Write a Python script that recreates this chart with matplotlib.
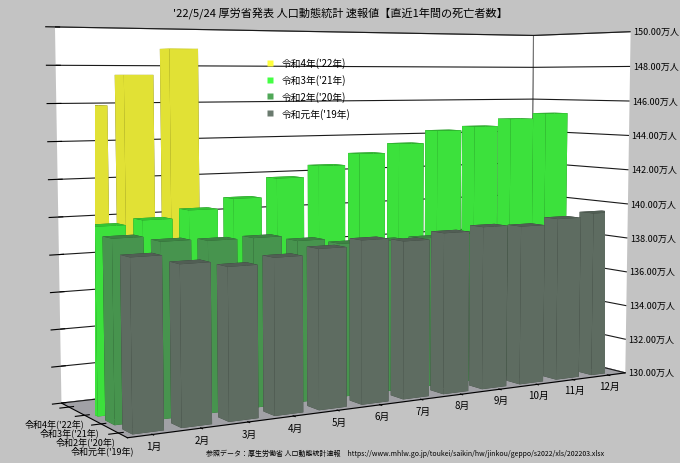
import numpy as np
import matplotlib.pyplot as plt
from matplotlib.lines import Line2D
from mpl_toolkits.mplot3d import proj3d

plt.rcParams['font.family'] = ['Noto Sans CJK JP', 'DejaVu Sans']

months = ['1月', '2月', '3月', '4月', '5月', '6月', '7月', '8月', '9月', '10月', '11月', '12月']
series_names = ["令和元年('19年)", "令和2年('20年)", "令和3年('21年)", "令和4年('22年)"]

# 直近1年間の死亡者数 (万人), rolling 12 months
deaths_r1 = [138.7, 138.2, 137.9, 138.2, 138.5, 138.8, 138.6, 138.9, 139.1, 139.0, 139.3, 139.5]
deaths_r2 = [139.4, 139.1, 139.0, 139.0, 138.7, 138.4, 138.4, 138.4, 138.5, 138.5, 138.5, 138.5]
deaths_r3 = [139.8, 140.0, 140.4, 140.9, 141.9, 142.5, 143.1, 143.6, 144.3, 144.5, 144.9, 145.2]
deaths_r4 = [145.9, 147.5, 148.9]

z_ticks = [130, 132, 134, 136, 138, 140, 142, 144, 146, 148, 150]

colors = ['#6a7a6e', '#50a858', '#44ff44', '#ffff3c']
all_series = [deaths_r1, deaths_r2, deaths_r3, deaths_r4]

fig = plt.figure(figsize=(6.8, 4.64), dpi=100, facecolor='#c3c3c3')
ax = fig.add_axes([-0.115, -0.02, 1.26, 1.1], projection='3d')
ax.set_facecolor('#c3c3c3')

dx, dy = 0.64, 0.55
xs, ys, hs, cs = [], [], [], []
for row, vals in enumerate(all_series):
    for m, v in enumerate(vals):
        xs.append(m - dx / 2)
        ys.append(row - dy / 2)
        hs.append(v - 130)
        cs.append(colors[row])
ax.bar3d(xs, ys, np.full(len(xs), 130.0), dx, dy, hs, color=cs, shade=True,
         edgecolor='none')

ax.set_xlim(-0.5, 11.5)
ax.set_ylim(-0.5, 3.5)
ax.set_zlim(130, 150)
ax.set_box_aspect((14.77, 4.3, 9.4), zoom=1.31)
ax.set_proj_type('persp', focal_length=0.55)
ax.view_init(elev=5, azim=-121)

ax.set_xticks(range(len(months)))
ax.set_xticklabels(months, fontsize=7)
ax.set_yticks(range(len(series_names)))
ax.set_yticklabels(series_names, fontsize=6.5)
ax.tick_params(axis='x', pad=-5)
ax.tick_params(axis='y', pad=-3)
ax.set_zticks(z_ticks)
ax.zaxis.set_tick_params(length=0)
ax.zaxis.set_major_formatter(plt.NullFormatter())

for pane_axis in (ax.xaxis, ax.yaxis):
    pane_axis.set_pane_color((1, 1, 1, 1))
    pane_axis.pane.set_edgecolor('#707070')
    pane_axis.pane.set_linewidth(0.8)
ax.zaxis.set_pane_color((0.63, 0.63, 0.65, 1))
ax.xaxis._axinfo['grid']['color'] = (1, 1, 1, 0)
ax.yaxis._axinfo['grid']['color'] = (1, 1, 1, 0)
ax.zaxis._axinfo['grid']['color'] = (0.1, 0.1, 0.1, 1)
ax.zaxis._axinfo['grid']['linewidth'] = 0.8
ax.zaxis.line.set_color((0, 0, 0, 0))

# value labels along the front-right vertical edge
fig.canvas.draw()
proj = ax.get_proj()
for z in z_ticks:
    px, py, _ = proj3d.proj_transform(11.5, -0.5, z, proj)
    fx, fy = fig.transFigure.inverted().transform(ax.transData.transform((px, py)))
    fig.text(fx + 0.004, fy, f'{z:.2f}万人', fontsize=6.5, ha='left', va='center')

handles = [Line2D([], [], marker='s', linestyle='none', markersize=4,
                  markerfacecolor=colors[i], markeredgecolor='none')
           for i in range(3, -1, -1)]
fig.legend(handles, series_names[::-1], loc='upper left',
           bbox_to_anchor=(0.37, 0.893), frameon=False, fontsize=7,
           handletextpad=0.2, labelspacing=0.6)

fig.text(0.5, 0.985, "'22/5/24 厚労省発表 人口動態統計 速報値【直近1年間の死亡者数】",
         ha='center', va='top', fontsize=8)
fig.text(0.595, 0.012, '参照データ：厚生労働省 人口動態統計速報　'
         'https://www.mhlw.go.jp/toukei/saikin/hw/jinkou/geppo/s2022/xls/202203.xlsx',
         ha='center', va='bottom', fontsize=5)

fig.savefig('out.png', dpi=100, facecolor=fig.get_facecolor())
